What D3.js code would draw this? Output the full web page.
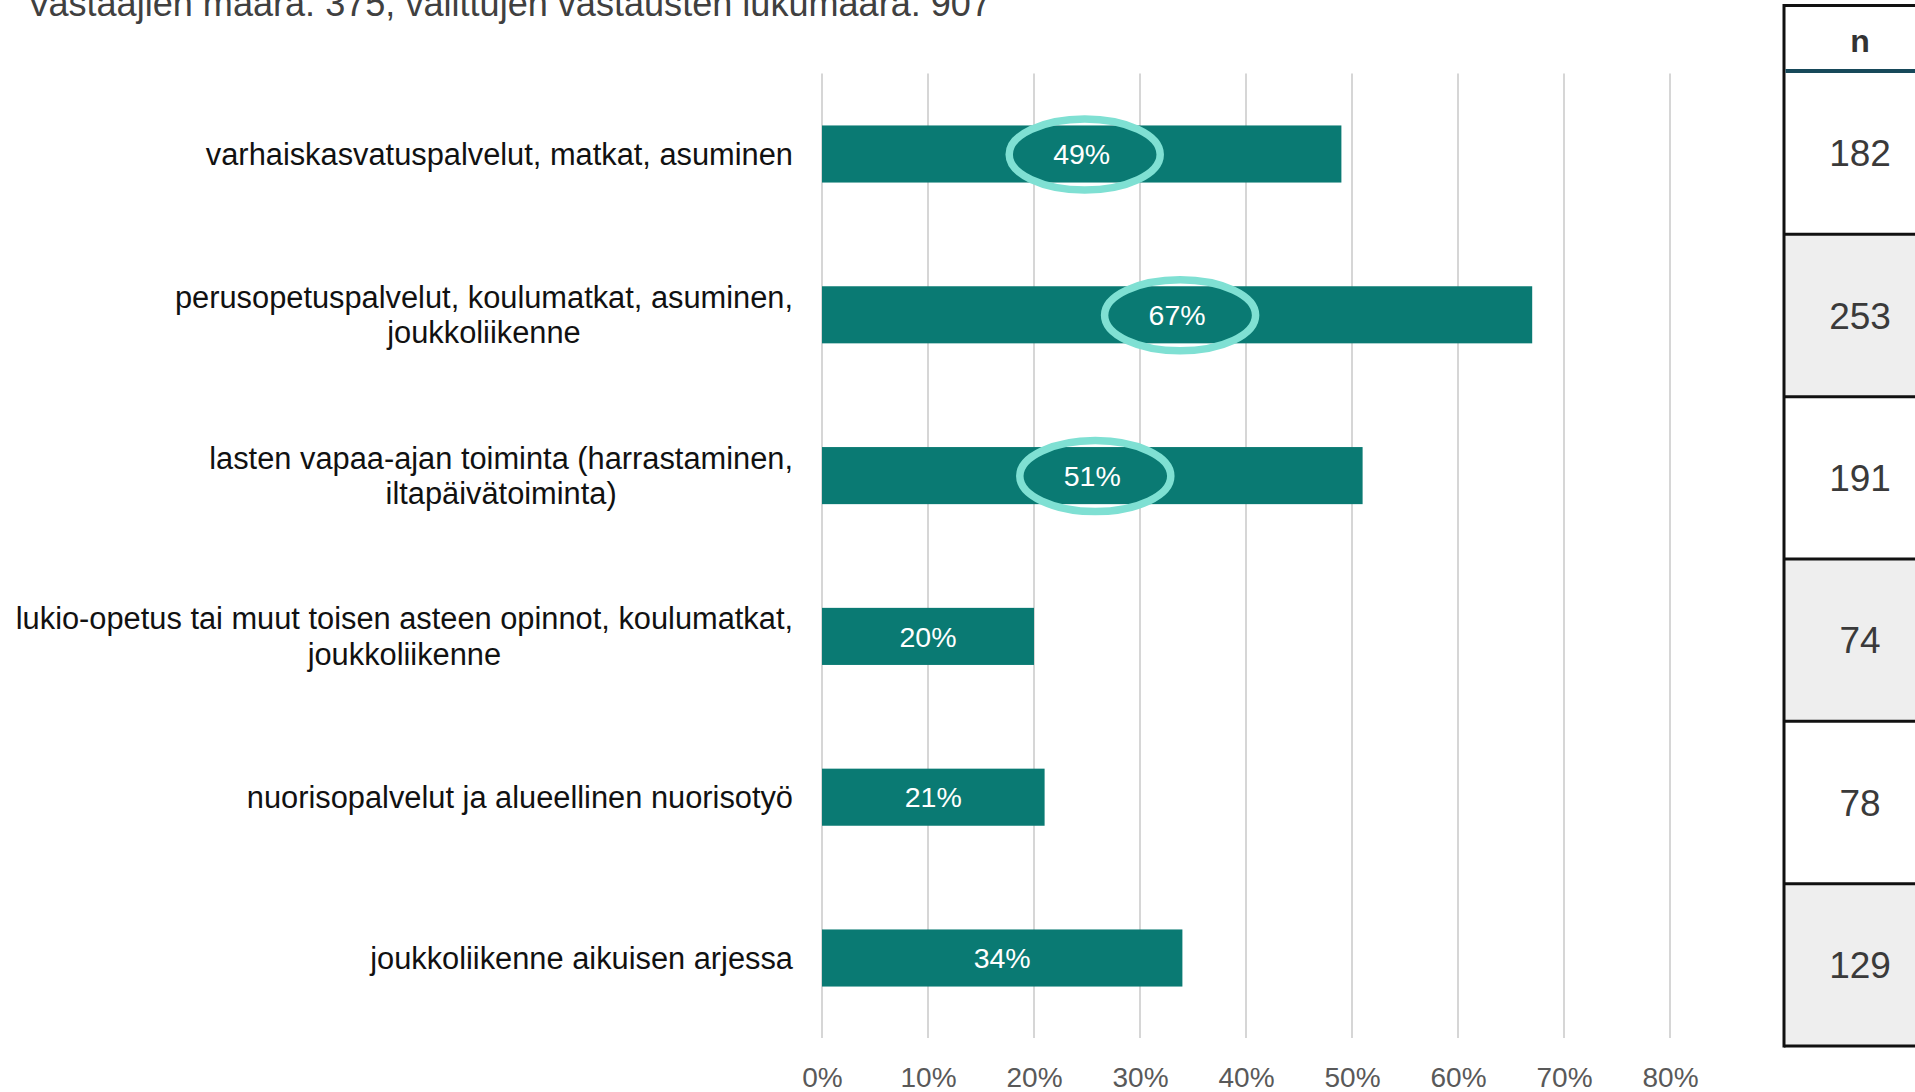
<!DOCTYPE html>
<html>
<head>
<meta charset="utf-8">
<script src="https://cdn.jsdelivr.net/npm/d3@7"></script>
<style>
  html, body { margin: 0; padding: 0; background: #ffffff; overflow: hidden; }
  svg { display: block; font-family: "Liberation Sans", Arial, sans-serif; }
</style>
</head>
<body>
<svg id="chart" width="1915" height="1092"></svg>
<script>
// ---- data ----
const title = "Vastaajien määrä: 375, valittujen vastausten lukumäärä: 907";
const categories = [
  ["varhaiskasvatuspalvelut, matkat, asuminen"],
  ["perusopetuspalvelut, koulumatkat, asuminen,", "joukkoliikenne"],
  ["lasten vapaa-ajan toiminta (harrastaminen,", "iltapäivätoiminta)"],
  ["lukio-opetus tai muut toisen asteen opinnot, koulumatkat,", "joukkoliikenne"],
  ["nuorisopalvelut ja alueellinen nuorisotyö"],
  ["joukkoliikenne aikuisen arjessa"]
];
const values = [49, 67, 51, 20, 21, 34];
const counts = [182, 253, 191, 74, 78, 129];
const highlighted = [true, true, true, false, false, false];
const xTicks = [0, 10, 20, 30, 40, 50, 60, 70, 80];
const tableHeader = "n";

// ---- layout ----
const svg = d3.select("#chart");
const keys = categories.map((c, i) => i);

const x = d3.scaleLinear().domain([0, 80]).range([822, 1670]);
const y = d3.scaleBand().domain(keys).range([73.6, 1038.4])
  .paddingInner(0.645).paddingOuter(0.3225);
const rowY = d3.scaleBand().domain(keys).range([72, 1046]);

// title (cut off at top like the reference)
svg.append("text")
  .attr("x", 27).attr("y", 16)
  .attr("font-size", 36.1)
  .attr("fill", "#404040")
  .text(title);

// gridlines
svg.append("g").selectAll("line").data(xTicks).join("line")
  .attr("x1", d => x(d)).attr("x2", d => x(d))
  .attr("y1", 73.6).attr("y2", 1038)
  .attr("stroke", "#d6d6d6").attr("stroke-width", 2);

// tick labels via axis
const axis = d3.axisBottom(x).tickValues(xTicks).tickFormat(d => d + "%").tickSize(0).tickPadding(0);
const gAxis = svg.append("g").attr("transform", "translate(0,1067)").call(axis);
gAxis.select(".domain").remove();
gAxis.selectAll("text")
  .attr("font-size", 28)
  .attr("font-family", "Liberation Sans, Arial, sans-serif")
  .attr("fill", "#595959")
  .attr("dy", "0.71em");

// bars
svg.append("g").selectAll("rect").data(keys).join("rect")
  .attr("x", x(0))
  .attr("y", i => y(i))
  .attr("width", i => x(values[i]) - x(0))
  .attr("height", y.bandwidth())
  .attr("fill", "#0a7a73");

// highlight ellipses
svg.append("g").selectAll("ellipse").data(keys.filter(i => highlighted[i])).join("ellipse")
  .attr("cx", i => (x(0) + x(values[i])) / 2 + 3)
  .attr("cy", i => y(i) + y.bandwidth() / 2 + 0.5)
  .attr("rx", 75.5).attr("ry", 35.5)
  .attr("fill", "none")
  .attr("stroke", "#7fe0d3")
  .attr("stroke-width", 7.5);

// bar value labels
svg.append("g").selectAll("text").data(keys).join("text")
  .attr("x", i => (x(0) + x(values[i])) / 2)
  .attr("y", i => y(i) + y.bandwidth() / 2)
  .attr("dy", "0.36em")
  .attr("text-anchor", "middle")
  .attr("font-size", 28.5)
  .attr("fill", "#ffffff")
  .text(i => values[i] + "%");

// category labels: block right-aligned, lines centered within block
const labelRight = 793;
const lineH = 35.4;
const gLab = svg.append("g");
keys.forEach(i => {
  const lines = categories[i];
  const g = gLab.append("g");
  const cy = y(i) + y.bandwidth() / 2;
  const texts = lines.map((t, k) => g.append("text")
    .attr("font-size", 30.8)
    .attr("fill", "#111111")
    .attr("text-anchor", "middle")
    .attr("y", cy + (k - (lines.length - 1) / 2) * lineH)
    .attr("dy", "0.35em")
    .text(t));
  const maxW = d3.max(texts, t => t.node().getComputedTextLength());
  texts.forEach(t => t.attr("x", labelRight - maxW / 2));
});

// table
const tLeft = 1784, tRight = 1930, tCenter = 1860;
const gT = svg.append("g");
gT.selectAll("rect.row").data(keys).join("rect")
  .attr("class", "row")
  .attr("x", tLeft).attr("width", tRight - tLeft)
  .attr("y", i => rowY(i)).attr("height", rowY.bandwidth())
  .attr("fill", i => i % 2 === 1 ? "#eeeeee" : "#ffffff");
// row separators
gT.selectAll("line.sep").data(keys.slice(1)).join("line")
  .attr("class", "sep")
  .attr("x1", tLeft).attr("x2", tRight)
  .attr("y1", i => rowY(i)).attr("y2", i => rowY(i))
  .attr("stroke", "#111111").attr("stroke-width", 3);
// outer borders
gT.append("line").attr("x1", tLeft).attr("x2", tRight).attr("y1", 5.5).attr("y2", 5.5)
  .attr("stroke", "#111111").attr("stroke-width", 3);
gT.append("line").attr("x1", tLeft).attr("x2", tRight).attr("y1", 1046).attr("y2", 1046)
  .attr("stroke", "#111111").attr("stroke-width", 3);
gT.append("line").attr("x1", tLeft).attr("x2", tLeft).attr("y1", 4).attr("y2", 1047.5)
  .attr("stroke", "#111111").attr("stroke-width", 3);
// header line
gT.append("line").attr("x1", tLeft + 1.5).attr("x2", tRight).attr("y1", 71).attr("y2", 71)
  .attr("stroke", "#17495a").attr("stroke-width", 4);
// header text
gT.append("text").attr("x", tCenter).attr("y", 52)
  .attr("text-anchor", "middle").attr("font-size", 32).attr("font-weight", "bold")
  .attr("fill", "#333333").text(tableHeader);
// counts
gT.selectAll("text.cnt").data(keys).join("text")
  .attr("class", "cnt")
  .attr("x", tCenter)
  .attr("y", i => rowY(i) + rowY.bandwidth() / 2)
  .attr("dy", "0.36em")
  .attr("text-anchor", "middle")
  .attr("font-size", 37)
  .attr("fill", "#3a3a3a")
  .text(i => counts[i]);
</script>
</body>
</html>
